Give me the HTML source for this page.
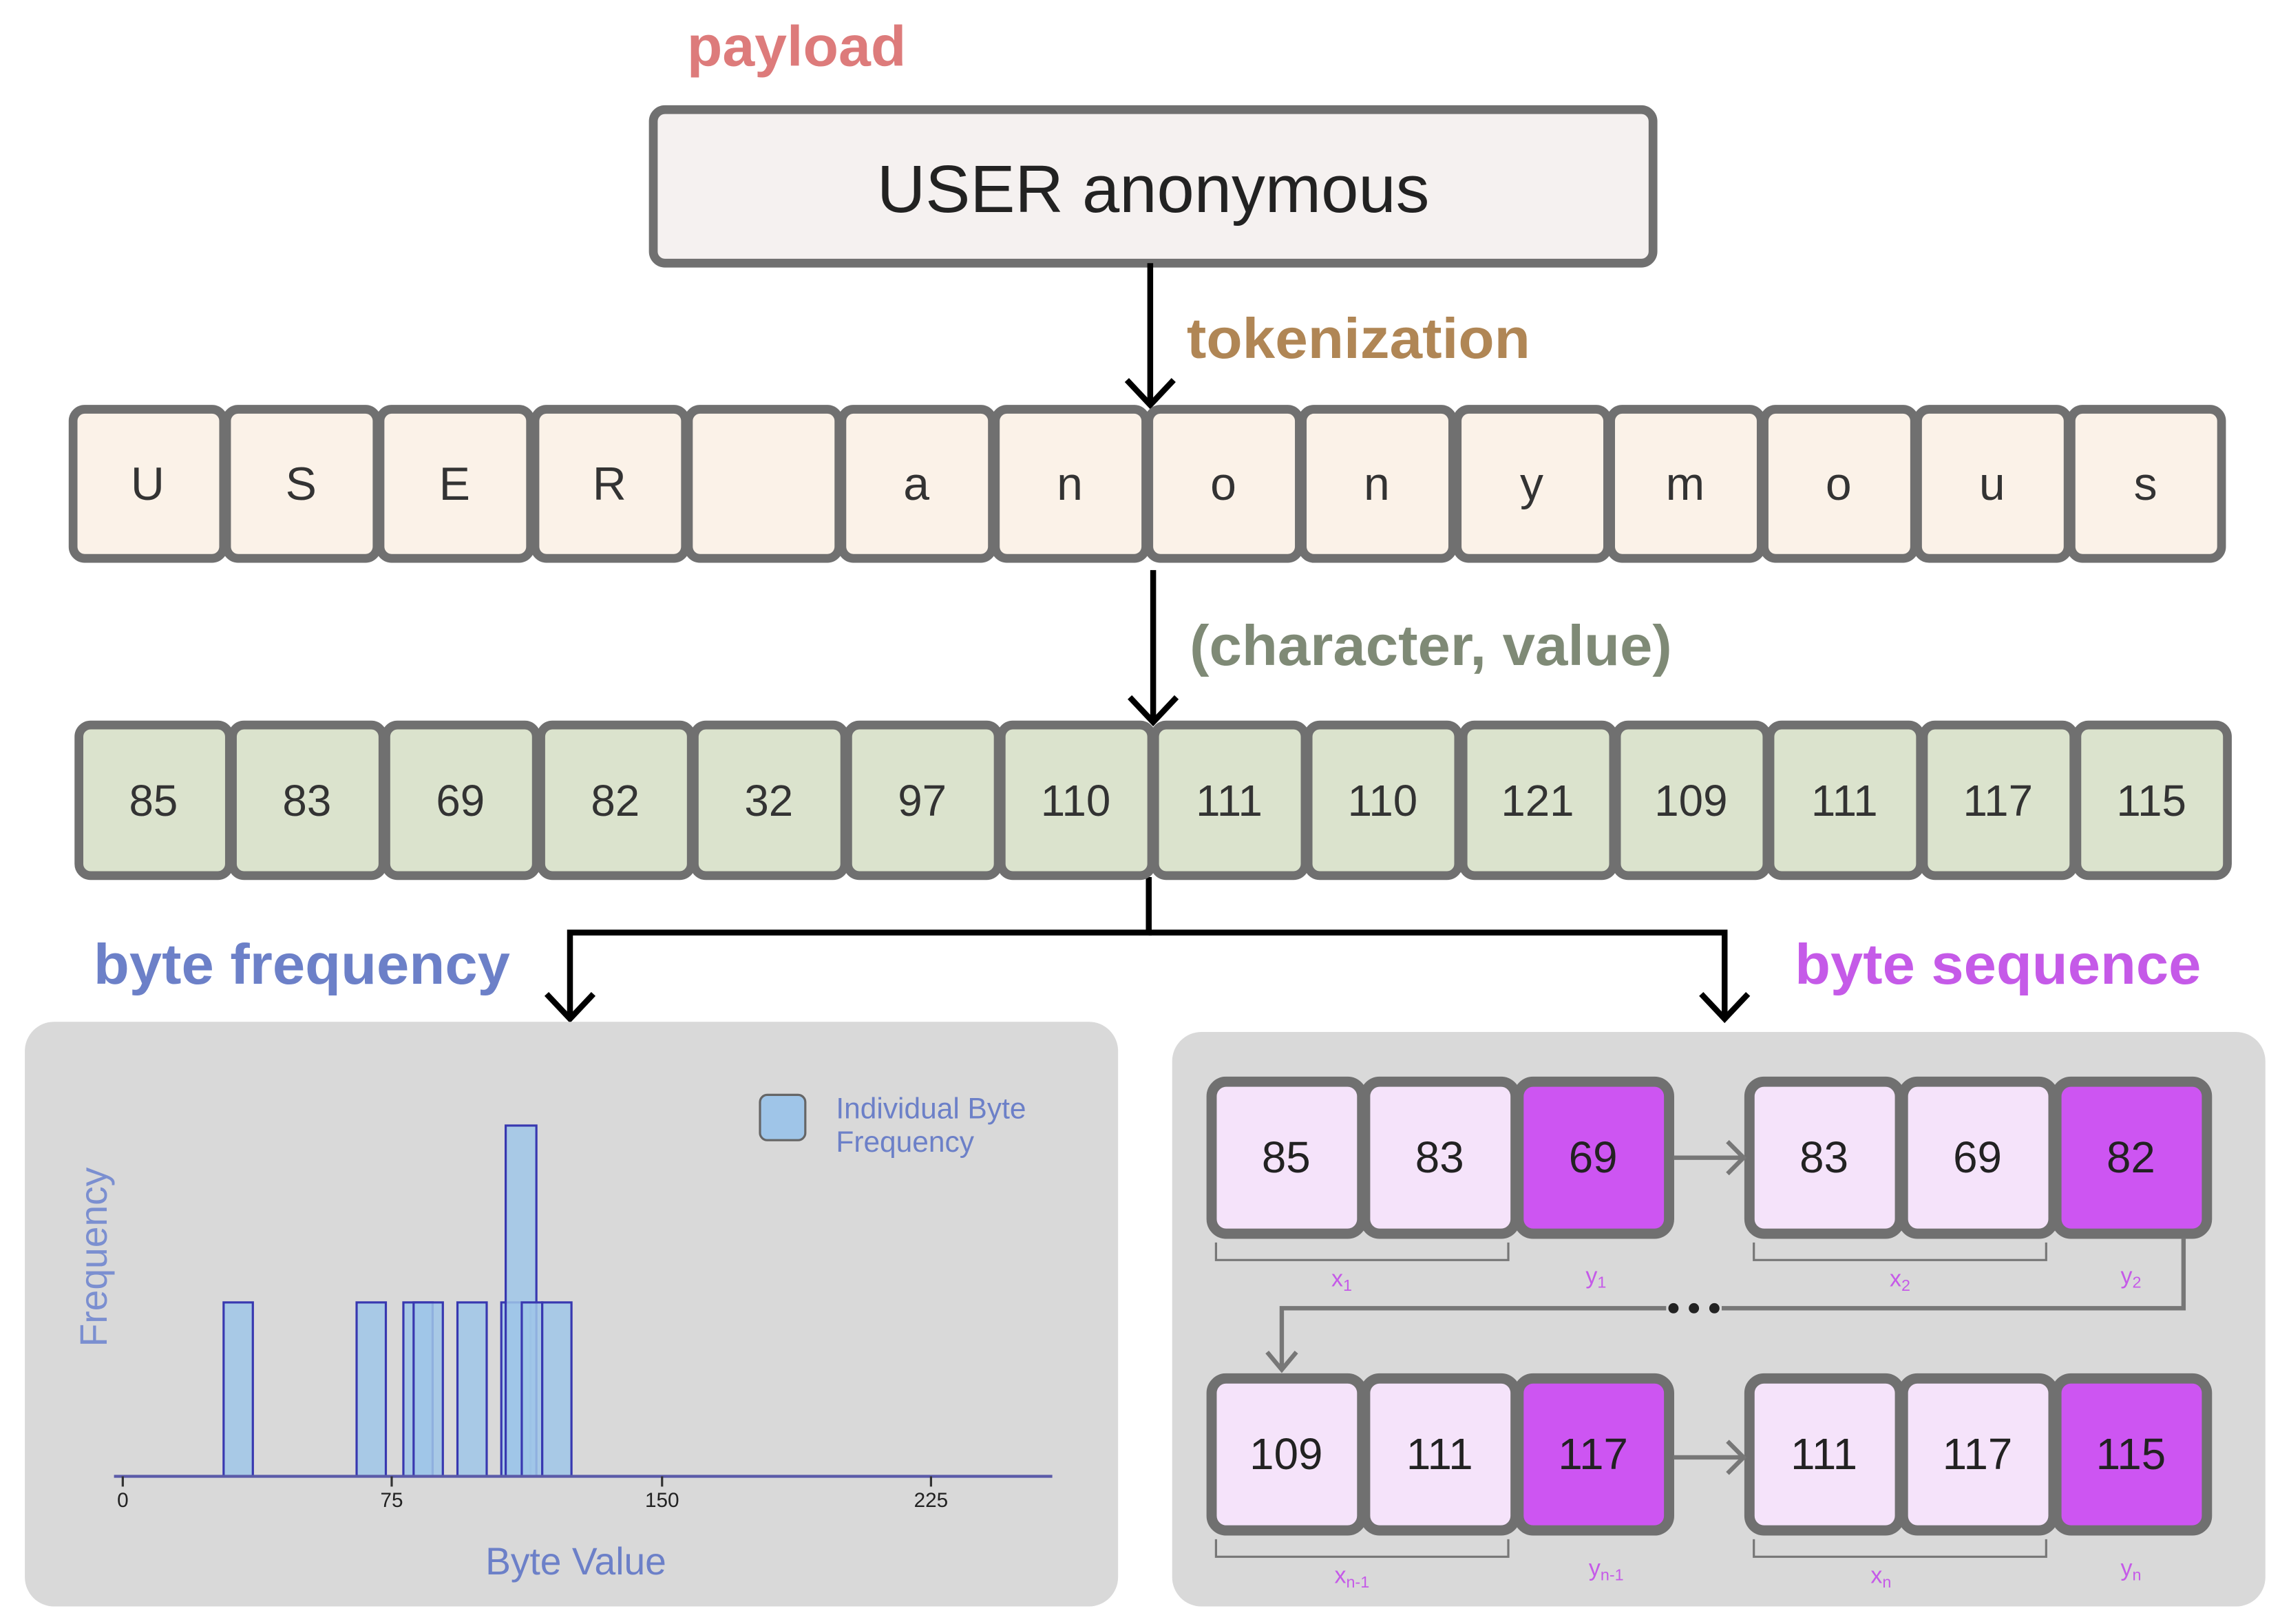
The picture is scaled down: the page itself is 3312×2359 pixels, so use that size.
<!DOCTYPE html>
<html><head><meta charset="utf-8"><style>html,body{margin:0;padding:0;background:#fff}svg{display:block}</style></head>
<body>
<svg width="3312" height="2359" viewBox="0 0 1560 1111" preserveAspectRatio="none" xmlns="http://www.w3.org/2000/svg" font-family="'Liberation Sans', sans-serif">
<rect width="1560" height="1111" fill="#fff"/>
<text x="470" y="45" font-size="39" font-weight="bold" fill="#dd7b7b" textLength="150" lengthAdjust="spacingAndGlyphs">payload</text>
<rect x="447" y="75" width="684" height="105" rx="8" fill="#f5f1f0" stroke="#707070" stroke-width="6"/>
<text x="789" y="145" font-size="46" fill="#222" text-anchor="middle" textLength="378" lengthAdjust="spacingAndGlyphs">USER anonymous</text>
<g stroke="#000" stroke-width="4" fill="none">
<line x1="787" y1="180" x2="787" y2="276"/><polyline points="771,260 787,277 803,260"/>
<line x1="789" y1="390" x2="789" y2="493"/><polyline points="773,477 789,494 805,477"/>
<polyline points="786,600 786,638 390,638 390,696"/><polyline points="786,638 1180,638 1180,696"/>
<polyline points="374,680 390,697 406,680"/><polyline points="1164,680 1180,697 1196,680"/>
</g>
<text x="812" y="245" font-size="39" font-weight="bold" fill="#b08655" textLength="235" lengthAdjust="spacingAndGlyphs">tokenization</text>
<text x="814" y="455" font-size="39" font-weight="bold" fill="#7f8a76" textLength="330" lengthAdjust="spacingAndGlyphs">(character, value)</text>
<g stroke="#707070" stroke-width="6" fill="#fbf2e8">
<rect x="50" y="280" width="103" height="102" rx="8"/><rect x="155" y="280" width="103" height="102" rx="8"/><rect x="260" y="280" width="103" height="102" rx="8"/><rect x="366" y="280" width="103" height="102" rx="8"/><rect x="471" y="280" width="103" height="102" rx="8"/><rect x="576" y="280" width="103" height="102" rx="8"/><rect x="681" y="280" width="103" height="102" rx="8"/><rect x="786" y="280" width="103" height="102" rx="8"/><rect x="891" y="280" width="103" height="102" rx="8"/><rect x="997" y="280" width="103" height="102" rx="8"/><rect x="1102" y="280" width="103" height="102" rx="8"/><rect x="1207" y="280" width="103" height="102" rx="8"/><rect x="1312" y="280" width="103" height="102" rx="8"/><rect x="1417" y="280" width="103" height="102" rx="8"/>
</g>
<g font-size="32" fill="#333" text-anchor="middle">
<text x="101" y="342">U</text><text x="206" y="342">S</text><text x="311" y="342">E</text><text x="417" y="342">R</text><text x="627" y="342">a</text><text x="732" y="342">n</text><text x="837" y="342">o</text><text x="942" y="342">n</text><text x="1048" y="342">y</text><text x="1153" y="342">m</text><text x="1258" y="342">o</text><text x="1363" y="342">u</text><text x="1468" y="342">s</text>
</g>
<g stroke="#707070" stroke-width="6" fill="#dbe3cd">
<rect x="54" y="496" width="103" height="103" rx="8"/><rect x="159" y="496" width="103" height="103" rx="8"/><rect x="264" y="496" width="103" height="103" rx="8"/><rect x="370" y="496" width="103" height="103" rx="8"/><rect x="475" y="496" width="103" height="103" rx="8"/><rect x="580" y="496" width="103" height="103" rx="8"/><rect x="685" y="496" width="103" height="103" rx="8"/><rect x="790" y="496" width="103" height="103" rx="8"/><rect x="895" y="496" width="103" height="103" rx="8"/><rect x="1001" y="496" width="103" height="103" rx="8"/><rect x="1106" y="496" width="103" height="103" rx="8"/><rect x="1211" y="496" width="103" height="103" rx="8"/><rect x="1316" y="496" width="103" height="103" rx="8"/><rect x="1421" y="496" width="103" height="103" rx="8"/>
</g>
<g font-size="30" fill="#333" text-anchor="middle">
<text x="105" y="558">85</text><text x="210" y="558">83</text><text x="315" y="558">69</text><text x="421" y="558">82</text><text x="526" y="558">32</text><text x="631" y="558">97</text><text x="736" y="558">110</text><text x="841" y="558">111</text><text x="946" y="558">110</text><text x="1052" y="558">121</text><text x="1157" y="558">109</text><text x="1262" y="558">111</text><text x="1367" y="558">117</text><text x="1472" y="558">115</text>
</g>
<text x="64" y="673" font-size="39" font-weight="bold" fill="#6c80c8" textLength="285" lengthAdjust="spacingAndGlyphs">byte frequency</text>
<text x="1228" y="673" font-size="39" font-weight="bold" fill="#c55ae8" textLength="278" lengthAdjust="spacingAndGlyphs">byte sequence</text>
<!-- left panel -->
<rect x="17" y="699" width="748" height="400" rx="20" fill="#d9d9d9"/>
<g fill="#9fc5e8" fill-opacity="0.85" stroke="#3838b0" stroke-width="1.5">
<rect x="153" y="891" width="20" height="119"/><rect x="244" y="891" width="20" height="119"/><rect x="276" y="891" width="20" height="119"/><rect x="283" y="891" width="20" height="119"/><rect x="313" y="891" width="20" height="119"/><rect x="343" y="891" width="20" height="119"/><rect x="346" y="770" width="21" height="240"/><rect x="357" y="891" width="14" height="119"/><rect x="371" y="891" width="20" height="119"/>
</g>
<line x1="78" y1="1010" x2="720" y2="1010" stroke="#5a5aa8" stroke-width="2"/>
<g stroke="#333" stroke-width="1.5"><line x1="84" y1="1010" x2="84" y2="1017"/><line x1="268" y1="1010" x2="268" y2="1017"/><line x1="453" y1="1010" x2="453" y2="1017"/><line x1="637" y1="1010" x2="637" y2="1017"/></g>
<g font-size="14" fill="#222" text-anchor="middle"><text x="84" y="1031">0</text><text x="268" y="1031">75</text><text x="453" y="1031">150</text><text x="637" y="1031">225</text></g>
<text x="394" y="1077" font-size="26" fill="#6c80c8" text-anchor="middle">Byte Value</text>
<text transform="translate(73,860) rotate(-90)" font-size="26" fill="#7b8fd0" text-anchor="middle">Frequency</text>
<rect x="520" y="749" width="31" height="31" rx="5" fill="#9fc5e8" stroke="#666" stroke-width="1.5"/>
<text x="572" y="765" font-size="20" fill="#6c80c8">Individual Byte</text>
<text x="572" y="788" font-size="20" fill="#6c80c8">Frequency</text>
<!-- right panel -->
<rect x="802" y="706" width="748" height="393" rx="20" fill="#d9d9d9"/>
<g stroke="#707070" stroke-width="7">
<rect x="829" y="740" width="103" height="104" rx="10" fill="#f5e3fa"/><rect x="934" y="740" width="103" height="104" rx="10" fill="#f5e3fa"/><rect x="1039" y="740" width="103" height="104" rx="10" fill="#cd55f2"/>
<rect x="1197" y="740" width="103" height="104" rx="10" fill="#f5e3fa"/><rect x="1302" y="740" width="103" height="104" rx="10" fill="#f5e3fa"/><rect x="1407" y="740" width="103" height="104" rx="10" fill="#cd55f2"/>
<rect x="829" y="943" width="103" height="104" rx="10" fill="#f5e3fa"/><rect x="934" y="943" width="103" height="104" rx="10" fill="#f5e3fa"/><rect x="1039" y="943" width="103" height="104" rx="10" fill="#cd55f2"/>
<rect x="1197" y="943" width="103" height="104" rx="10" fill="#f5e3fa"/><rect x="1302" y="943" width="103" height="104" rx="10" fill="#f5e3fa"/><rect x="1407" y="943" width="103" height="104" rx="10" fill="#cd55f2"/>
</g>
<g font-size="30" fill="#222" text-anchor="middle">
<text x="880" y="802">85</text><text x="985" y="802">83</text><text x="1090" y="802">69</text><text x="1248" y="802">83</text><text x="1353" y="802">69</text><text x="1458" y="802">82</text>
<text x="880" y="1005">109</text><text x="985" y="1005">111</text><text x="1090" y="1005">117</text><text x="1248" y="1005">111</text><text x="1353" y="1005">117</text><text x="1458" y="1005">115</text>
</g>
<g stroke="#777" stroke-width="3" fill="none">
<line x1="1145" y1="792" x2="1192" y2="792"/><polyline points="1182,781 1193,792 1182,803"/>
<line x1="1145" y1="997" x2="1192" y2="997"/><polyline points="1182,986 1193,997 1182,1008"/>
<polyline points="1494,847 1494,895 1178,895"/><polyline points="1140,895 877,895 877,936"/><polyline points="867,925 877,937 887,925"/>
</g>
<g stroke="#777" stroke-width="1.5" fill="none">
<polyline points="832,850 832,862 1032,862 1032,850"/><polyline points="1200,850 1200,862 1400,862 1400,850"/>
<polyline points="832,1053 832,1065 1032,1065 1032,1053"/><polyline points="1200,1053 1200,1065 1400,1065 1400,1053"/>
</g>
<g fill="#222"><circle cx="1145" cy="895" r="3.5"/><circle cx="1159" cy="895" r="3.5"/><circle cx="1173" cy="895" r="3.5"/></g>
<g font-size="16" fill="#c55ae8" text-anchor="middle">
<text x="918" y="880">x<tspan font-size="11" dy="3">1</tspan></text>
<text x="1092" y="878">y<tspan font-size="11" dy="3">1</tspan></text>
<text x="1300" y="880">x<tspan font-size="11" dy="3">2</tspan></text>
<text x="1458" y="878">y<tspan font-size="11" dy="3">2</tspan></text>
<text x="925" y="1083">x<tspan font-size="11" dy="3">n-1</tspan></text>
<text x="1099" y="1078">y<tspan font-size="11" dy="3">n-1</tspan></text>
<text x="1287" y="1083">x<tspan font-size="11" dy="3">n</tspan></text>
<text x="1458" y="1078">y<tspan font-size="11" dy="3">n</tspan></text>
</g>
</svg>
</body></html>
